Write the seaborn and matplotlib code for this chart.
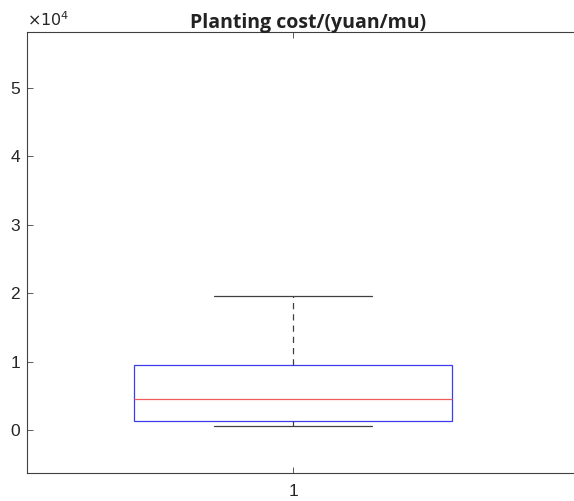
import matplotlib

matplotlib.use("Agg", force=True)
import matplotlib.pyplot as plt
import pandas as pd
import seaborn as sns

# planting cost samples (yuan/mu), chosen to reproduce the box statistics
group_labels = ["1", "1", "1", "1", "1"]
planting_cost = [600, 1300, 4500, 9500, 19600]
y_ticks = [0, 10000, 20000, 30000, 40000, 50000]
y_tick_labels = ["0", "1", "2", "3", "4", "5"]

df = pd.DataFrame({"group": group_labels, "cost": planting_cost})

sns.set_theme(style="white")
plt.rcParams["font.family"] = ["Liberation Sans", "DejaVu Sans"]

fig = plt.figure(figsize=(5.74, 5.01), dpi=100)
ax = fig.add_axes([27 / 574, (501 - 473) / 501, 1 - 27 / 574, (473 - 32) / 501])

sns.boxplot(
    data=df, x="group", y="cost", ax=ax, width=0.596, whis=1.5,
    fliersize=0, linewidth=0.9,
    boxprops=dict(facecolor="none", edgecolor="#3b3bf0", linewidth=0.9),
    medianprops=dict(color="#f05a5a", linewidth=0.9),
    whiskerprops=dict(color="#404040", linestyle=(0, (5, 4)), linewidth=0.9),
    capprops=dict(color="#404040", linewidth=0.9),
    capwidths=0.297,
)

ax.set_xlim(-0.5, 0.528)
ax.set_ylim(-6300, 58200)
ax.set_yticks(y_ticks)
ax.set_yticklabels(y_tick_labels)
ax.set_xlabel("")
ax.set_ylabel("")

for side in ["left", "bottom", "top"]:
    ax.spines[side].set_color("#404040")
    ax.spines[side].set_linewidth(0.8)
ax.spines["right"].set_visible(False)
ax.tick_params(axis="both", direction="in", length=4, width=0.6, colors="#404040",
               labelsize=12.5, labelcolor="#262626", top=True, bottom=True, left=True)
ax.tick_params(axis="x", pad=8)
ax.tick_params(axis="y", pad=5)

ax.text(0.0, 1.006, r"$\times 10^4$", transform=ax.transAxes, fontsize=11.5,
        color="#262626", ha="left", va="bottom", family="DejaVu Sans")
ax.set_title("Planting cost/(yuan/mu)", fontsize=14, fontweight="bold",
             color="#222222", family=["Open Sans", "DejaVu Sans"], pad=3,
             x=(308 - 27) / (574 - 27))

fig.savefig("out.png", dpi=100, facecolor="white")
